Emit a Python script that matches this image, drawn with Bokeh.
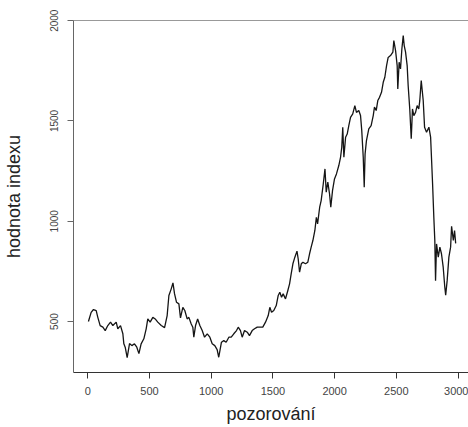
from bokeh.plotting import figure
from bokeh.models import Range1d, FixedTicker, LinearAxis, ColumnDataSource
from bokeh.embed import file_html
from bokeh.resources import INLINE

pozorovani = [5, 27, 46, 68, 81, 100, 122, 141, 162, 184, 203, 230, 243, 265, 284, 292, 303, 319,
              338, 357, 378, 397, 414, 432, 454, 473, 486, 505, 527, 546, 567, 595, 622, 643, 657,
              676, 690, 703, 719, 738, 751, 770, 786, 805, 819, 838, 851, 859, 873, 890, 908, 927,
              946, 968, 989, 1008, 1029, 1048, 1061, 1083, 1102, 1121, 1143, 1162, 1183, 1205,
              1219, 1237, 1251, 1270, 1292, 1310, 1332, 1351, 1373, 1400, 1418, 1440, 1462, 1475,
              1489, 1507, 1527, 1543, 1556, 1570, 1583, 1602, 1621, 1635, 1648, 1662, 1678, 1695,
              1705, 1716, 1730, 1743, 1764, 1783, 1797, 1810, 1824, 1840, 1852, 1862, 1879, 1891,
              1908, 1922, 1932, 1945, 1959, 1969, 1983, 1999, 2015, 2034, 2048, 2058, 2066, 2075,
              2089, 2102, 2115, 2129, 2147, 2164, 2177, 2196, 2210, 2220, 2232, 2240, 2247, 2258,
              2277, 2296, 2313, 2323, 2337, 2350, 2364, 2380, 2394, 2407, 2421, 2434, 2453, 2472,
              2480, 2494, 2507, 2512, 2523, 2534, 2545, 2556, 2564, 2575, 2588, 2596, 2609, 2621,
              2631, 2642, 2656, 2669, 2682, 2690, 2702, 2718, 2729, 2745, 2764, 2778, 2786, 2794,
              2804, 2812, 2818, 2826, 2840, 2853, 2866, 2880, 2893, 2900, 2912, 2926, 2940, 2948,
              2962, 2972, 2981]
hodnota = [500, 546, 560, 555, 521, 480, 472, 455, 480, 497, 480, 497, 464, 480, 439, 389, 372, 320,
           390, 380, 389, 372, 340, 389, 414, 464, 513, 497, 521, 513, 497, 480, 470, 530, 630,
           663, 693, 638, 596, 588, 518, 571, 555, 513, 521, 488, 472, 422, 480, 513, 480, 455,
           422, 439, 422, 389, 380, 360, 322, 397, 405, 397, 422, 422, 439, 455,
           472, 455, 422, 455, 447, 430, 455, 464, 472, 472, 472, 497, 530, 571,
           546, 555, 580, 630, 646, 621, 638, 613, 655, 688, 738, 788, 821, 851,
           812, 746, 788, 796, 788, 796, 838, 871, 904, 954, 1020, 987, 1070, 1103,
           1186, 1261, 1145, 1195, 1136, 1070, 1153, 1211, 1236, 1278, 1319, 1369, 1469, 1319,
           1419, 1435, 1477, 1518, 1535, 1577, 1543, 1552, 1527, 1452, 1319, 1170, 1336, 1402,
           1461, 1477, 1527, 1569, 1552, 1602, 1618, 1643, 1693, 1718, 1776, 1817, 1826, 1843,
           1901, 1851, 1776, 1660, 1793, 1760, 1859, 1926, 1876, 1843, 1776, 1677, 1560, 1411,
           1560, 1527, 1543, 1577, 1560, 1600, 1701, 1602, 1469, 1444, 1469, 1419, 1303, 1186,
           1020, 904, 704, 887, 821, 871, 838, 771, 671, 632, 704, 821, 871, 975,
           904, 954, 890]
x_ticks = [0, 500, 1000, 1500, 2000, 2500, 3000]
y_ticks = [500, 1000, 1500, 2000]
x_title = "pozorování"
y_title = "hodnota indexu"

FONT = "Liberation Sans"

p = figure(width=468, height=427, output_backend="svg", toolbar_location=None,
           x_range=Range1d(-116, 3085), y_range=Range1d(246, 2001),
           min_border_left=73, min_border_right=0, min_border_top=20, min_border_bottom=55)
p.outline_line_color = None
p.xgrid.visible = False
p.ygrid.visible = False
p.background_fill_color = "white"
p.border_fill_color = "white"

src = ColumnDataSource(dict(x=pozorovani, y=hodnota))
p.line("x", "y", source=src, line_color="#151515", line_width=1.3)

xa = p.xaxis[0]
xa.ticker = FixedTicker(ticks=x_ticks)
xa.minor_tick_line_color = None
xa.major_tick_out = 6
xa.major_tick_in = 0
xa.axis_line_color = "#333333"
xa.major_tick_line_color = "#333333"
xa.major_label_text_font = FONT
xa.major_label_text_font_size = "11px"
xa.major_label_text_color = "#444444"
xa.major_label_standoff = 8
xa.axis_label = x_title
xa.axis_label_text_font = FONT
xa.axis_label_text_font_size = "18px"
xa.axis_label_text_font_style = "normal"
xa.axis_label_text_color = "#222222"
xa.axis_label_standoff = 6

ya = p.yaxis[0]
ya.ticker = FixedTicker(ticks=y_ticks)
ya.minor_tick_line_color = None
ya.major_tick_out = 6
ya.major_tick_in = 0
ya.axis_line_color = "#666666"
ya.major_tick_line_color = "#666666"
ya.major_label_orientation = "vertical"
ya.major_label_text_font = FONT
ya.major_label_text_font_size = "10px"
ya.major_label_text_color = "#444444"
ya.major_label_standoff = 9
ya.axis_label = y_title
ya.axis_label_text_font = FONT
ya.axis_label_text_font_size = "18px"
ya.axis_label_text_font_style = "normal"
ya.axis_label_text_color = "#222222"
ya.axis_label_standoff = 24

# top frame line only (no ticks, no labels)
top = LinearAxis(ticker=FixedTicker(ticks=[]), major_tick_line_color=None,
                 minor_tick_line_color=None, axis_line_color="#999999")
p.add_layout(top, "above")

open("out.html", "w").write(file_html(p, INLINE))
